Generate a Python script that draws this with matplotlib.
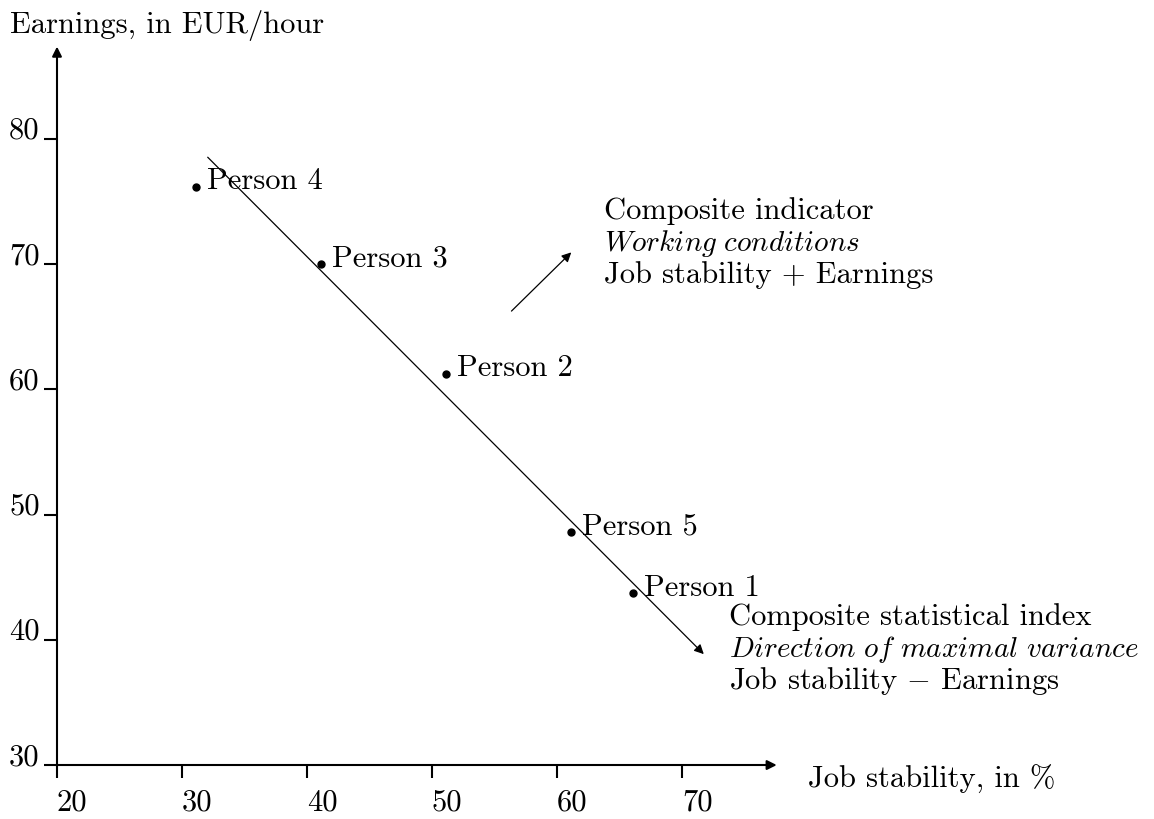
import matplotlib.pyplot as plt

plt.rcParams['font.family'] = 'cmr10'
plt.rcParams['mathtext.fontset'] = 'cm'
plt.rcParams['axes.unicode_minus'] = False

# data
persons = ['Person 1', 'Person 2', 'Person 3', 'Person 4', 'Person 5']
job_stability = [66.1, 51.1, 41.1, 31.1, 61.1]
earnings = [43.7, 61.2, 70.0, 76.2, 48.6]

x_ticks = [20, 30, 40, 50, 60, 70]
y_ticks = [30, 40, 50, 60, 70, 80]

# first principal direction (composite statistical index) and the sum direction
pc_start, pc_end = (31.9, 78.7), (71.9, 38.7)
sum_start, sum_end = (56.2, 66.1), (61.3, 71.1)

fs = 22
fs_it = 21

fig = plt.figure(figsize=(11.54, 8.19), dpi=100)
ax = fig.add_axes([0, 0, 1, 1])
ax.set_xlim(15.44, 107.76)
ax.set_ylim(25.69, 91.1)

# axes as arrows through (20, 30)
for side in ['top', 'right']:
    ax.spines[side].set_visible(False)
ax.spines['left'].set_position(('data', 20))
ax.spines['bottom'].set_position(('data', 30))
ax.spines['left'].set_bounds(30, 87.0)
ax.spines['bottom'].set_bounds(20, 77.2)
for sp in ['left', 'bottom']:
    ax.spines[sp].set_linewidth(1.5)
ax.annotate('', xy=(20, 87.6), xytext=(20, 86.5),
            arrowprops=dict(arrowstyle='-|>', lw=1.5, color='black', mutation_scale=14))
ax.annotate('', xy=(77.8, 30), xytext=(76.7, 30),
            arrowprops=dict(arrowstyle='-|>', lw=1.5, color='black', mutation_scale=14))

ax.set_xticks(x_ticks)
ax.set_yticks(y_ticks)
ax.set_xticklabels([str(v) for v in x_ticks])
ax.set_yticklabels([str(v) for v in y_ticks])
ax.tick_params(direction='out', length=9.5, width=1.5, labelsize=fs)
ax.tick_params(axis='x', pad=8)
ax.tick_params(axis='y', pad=3)
for lbl in ax.get_xticklabels():
    lbl.set_ha('left')
for lbl in ax.get_yticklabels():
    lbl.set_va('baseline')

# points and labels
ax.plot(job_stability, earnings, 'o', color='black', markersize=5, zorder=3)
for name, xv, yv in zip(persons, job_stability, earnings):
    ax.annotate(name, (xv, yv), xytext=(8, -1.5), textcoords='offset points',
                fontsize=fs, va='baseline', ha='left')

# direction arrows
ax.annotate('', xy=pc_end, xytext=pc_start,
            arrowprops=dict(arrowstyle='-|>', lw=0.9, color='black', mutation_scale=14))
ax.annotate('', xy=sum_end, xytext=sum_start,
            arrowprops=dict(arrowstyle='-|>', lw=0.9, color='black', mutation_scale=14))

# axis titles
ax.text(16.25, 88.5, 'Earnings, in EUR/hour', fontsize=fs, va='baseline', ha='left')
ax.text(80.1, 28.2, 'Job stability, in %', fontsize=fs, va='baseline', ha='left')

# text blocks
upper = ['Composite indicator', r'$\mathit{Working\ conditions}$', 'Job stability + Earnings']
lower = ['Composite statistical index', r'$\mathit{Direction\ of\ maximal\ variance}$',
         'Job stability $-$ Earnings']
for i, line in enumerate(upper):
    ax.text(63.75, 73.6 - i * 2.55, line, fontsize=fs_it if i == 1 else fs,
            va='baseline', ha='left')
for i, line in enumerate(lower):
    ax.text(73.8, 41.2 - i * 2.55, line, fontsize=fs_it if i == 1 else fs,
            va='baseline', ha='left')

fig.savefig('out.png', dpi=100)
